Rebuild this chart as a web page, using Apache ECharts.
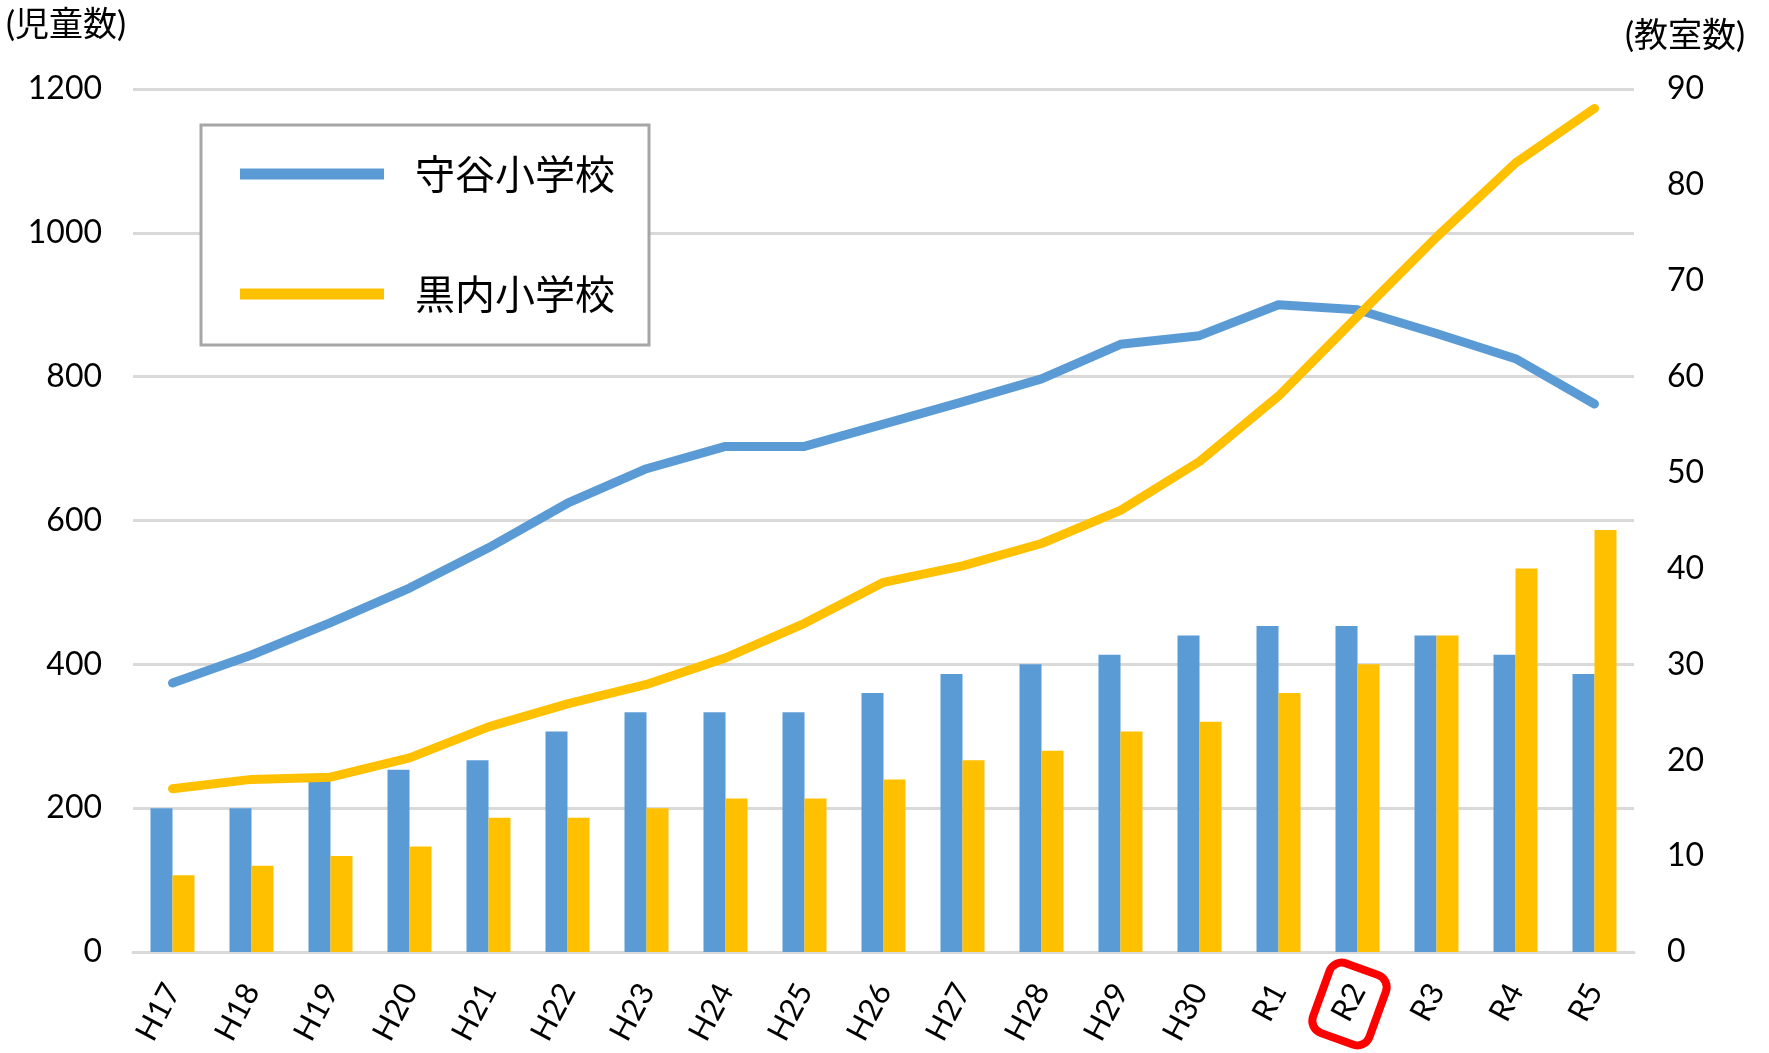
<!DOCTYPE html>
<html>
<head>
<meta charset="utf-8">
<script src="https://cdn.jsdelivr.net/npm/echarts@6/dist/echarts.min.js"></script>
<style>
  html, body { margin: 0; padding: 0; background: #fff; }
  #chart { width: 1769px; height: 1053px; }
</style>
</head>
<body>
<div id="chart"></div>
<script>
// 年度
const years = ["H17", "H18", "H19", "H20", "H21", "H22", "H23", "H24", "H25", "H26",
  "H27", "H28", "H29", "H30", "R1", "R2", "R3", "R4", "R5"];

// 児童数 (左軸)
const moriyaStudents = [374, 413, 458, 506, 562, 624, 672, 703, 703, 734, 765, 797, 845, 857, 900, 893, 860, 825, 762];
const kurouchiStudents = [227, 240, 243, 270, 313, 345, 372, 409, 457, 514, 537, 568, 614, 682, 773, 884, 994, 1097, 1173];

// 教室数 (右軸)
const moriyaRooms = [15, 15, 18, 19, 20, 23, 25, 25, 25, 27, 29, 30, 31, 33, 34, 34, 33, 31, 29];
const kurouchiRooms = [8, 9, 10, 11, 14, 14, 15, 16, 16, 18, 20, 21, 23, 24, 27, 30, 33, 40, 44];

const BLUE = "#5B9BD5";
const YELLOW = "#FFC000";
const GRID = "#D9D9D9";
const FONT = 'Lato, "Noto Sans CJK JP", sans-serif';

const chart = echarts.init(document.getElementById("chart"));

const option = {
  animation: false,
  textStyle: { fontFamily: FONT },
  grid: { left: 133, right: 135, top: 89, bottom: 101 },
  legend: {
    data: ["守谷小学校", "黒内小学校"],
    orient: "vertical",
    left: 201,
    top: 125,
    icon: "rect",
    itemWidth: 144,
    itemHeight: 11,
    itemGap: 76,
    padding: [27, 34, 29, 39],
    borderColor: "#A6A6A6",
    borderWidth: 3,
    backgroundColor: "#fff",
    textStyle: {
      fontSize: 40,
      lineHeight: 44,
      color: "#000",
      padding: [0, 0, 0, 26],
      fontFamily: '"Noto Sans CJK JP"',
    },
  },
  xAxis: {
    type: "category",
    data: years,
    axisLine: { lineStyle: { color: GRID, width: 3 } },
    axisTick: { show: false },
    axisLabel: { interval: 0, rotate: 62, fontSize: 31, margin: 34, color: "#000" },
  },
  yAxis: [
    {
      type: "value",
      min: 0,
      max: 1200,
      interval: 200,
      axisLine: { show: false },
      axisTick: { show: false },
      axisLabel: { fontSize: 32, margin: 31, color: "#000", formatter: (v) => String(v) },
      splitLine: { lineStyle: { color: GRID, width: 3 } },
    },
    {
      type: "value",
      min: 0,
      max: 90,
      interval: 10,
      axisLine: { show: false },
      axisTick: { show: false },
      axisLabel: { fontSize: 32, margin: 33, color: "#000" },
      splitLine: { show: false },
    },
  ],
  series: [
    {
      name: "守谷小学校 教室数",
      type: "bar",
      yAxisIndex: 1,
      data: moriyaRooms,
      barWidth: 22,
      barGap: "0%",
      itemStyle: { color: BLUE },
    },
    {
      name: "黒内小学校 教室数",
      type: "bar",
      yAxisIndex: 1,
      data: kurouchiRooms,
      barWidth: 22,
      barGap: "0%",
      itemStyle: { color: YELLOW },
    },
    {
      name: "守谷小学校",
      type: "line",
      yAxisIndex: 0,
      data: moriyaStudents,
      showSymbol: false,
      itemStyle: { color: BLUE },
      lineStyle: { color: BLUE, width: 9, cap: "round", join: "round" },
    },
    {
      name: "黒内小学校",
      type: "line",
      yAxisIndex: 0,
      data: kurouchiStudents,
      showSymbol: false,
      itemStyle: { color: YELLOW },
      lineStyle: { color: YELLOW, width: 9, cap: "round", join: "round" },
    },
  ],
};

chart.setOption(option);

// 軸タイトルと R2 の赤枠
const r2x = chart.convertToPixel({ xAxisIndex: 0 }, "R2");
chart.setOption({
  graphic: [
    {
      type: "text",
      left: 6,
      top: 8,
      style: { text: "(児童数)", fill: "#000", font: "34px " + FONT },
    },
    {
      type: "text",
      left: 1625,
      top: 19,
      style: { text: "(教室数)", fill: "#000", font: "34px " + FONT },
    },
    {
      type: "rect",
      x: r2x - 8,
      y: 1004,
      rotation: (-20 * Math.PI) / 180,
      shape: { x: -30, y: -37, width: 60, height: 74, r: 13 },
      style: { fill: "none", stroke: "#FF0000", lineWidth: 8 },
      z: 100,
    },
  ],
});
</script>
</body>
</html>
